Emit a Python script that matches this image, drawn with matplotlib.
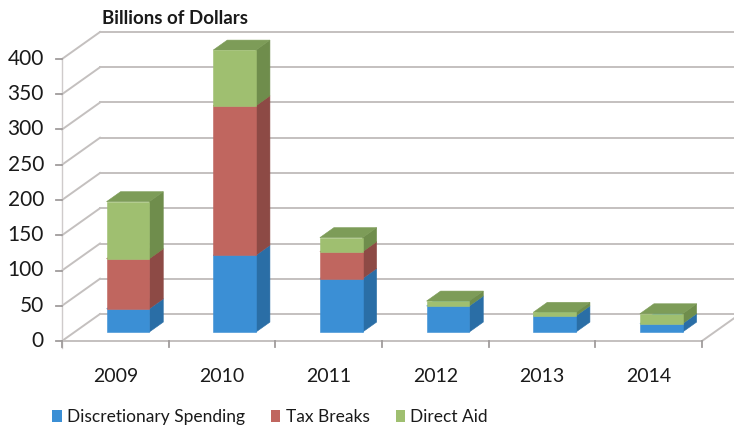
import matplotlib
matplotlib.use("Agg")
import matplotlib.pyplot as plt
from matplotlib.patches import Polygon, Patch

plt.rcParams['font.family'] = ['Lato', 'DejaVu Sans']

years = ['2009', '2010', '2011', '2012', '2013', '2014']
discretionary = [33, 109, 76, 37, 23, 12]
tax_breaks = [71, 212, 38, 0, 0, 0]
direct_aid = [81, 79, 20, 7, 5, 14]
series_names = ['Discretionary Spending', 'Tax Breaks', 'Direct Aid']
y_ticks = [0, 50, 100, 150, 200, 250, 300, 350, 400]

# front / side / top shades for each series
shades = [
    ('#3b8fd5', '#2a6ea6', '#4a9be0'),
    ('#c0665f', '#8d4a45', '#b05a53'),
    ('#9fbf70', '#6f8d4c', '#7d9c58'),
]
grid_col = '#c4c0bf'
txt_col = '#1a1a1a'

W, H = 734, 429
fig = plt.figure(figsize=(W / 100, H / 100), dpi=100)
ax = fig.add_axes([0, 0, 1, 1])
ax.set_axis_off()

# pixel layout of the plot box
unit = 640 / len(years)      # px per category
vpx = 282 / 400              # px per value unit
x0_px, y0_px = 62, 341
ax.set_xlim(-0.5 - x0_px / unit, -0.5 + (W - x0_px) / unit)
ax.set_ylim(-(H - y0_px) / vpx, y0_px / vpx)

DX = 38 / unit               # depth shift in category units
DY = 27 / vpx                # depth shift in value units
n = len(years)
xl, xr = -0.5, n - 0.5


def proj(x, v, d):
    return (x + d * DX, v + d * DY)


# side wall and back wall gridlines
for v in y_ticks:
    ax.plot(*zip(proj(xl, v, 0), proj(xl, v, 1)), color=grid_col, lw=1.4, zorder=1)
    ax.plot(*zip(proj(xl, v, 1), proj(xr, v, 1)), color=grid_col, lw=1.4, zorder=1)
    # tick marks on the front axis
    ax.plot([xl - 6 / unit, xl], [v, v], color='#a09c9c', lw=1.3, zorder=2)
    ax.text(xl - 18 / unit, v, str(v), ha='right', va='center',
            fontsize=15, color=txt_col)

# floor edges
ax.plot([xl, xr], [0, 0], color=grid_col, lw=1.4, zorder=1)
ax.plot(*zip(proj(xr, 0, 0), proj(xr, 0, 1)), color=grid_col, lw=1.4, zorder=1)
ax.plot([xl, xl], [-10, 400], color='#cfcbcb', lw=1.0, zorder=1)
for i in range(n + 1):
    ax.plot([xl + i, xl + i], [0, -9], color='#a09c9c', lw=1.3, zorder=2)

for i, yr in enumerate(years):
    ax.text(i, -50, yr, ha='center', va='center', fontsize=14, color=txt_col)

# stacked 3D-looking bars
d0, d1 = 0.33, 0.70
half = 0.20
for i in range(n):
    base = 0
    vals = [discretionary[i], tax_breaks[i], direct_aid[i]]
    for k, val in enumerate(vals):
        if val <= 0:
            continue
        top = base + val
        front_c, side_c, top_c = shades[k]
        left, right = i - half, i + half
        z = 3 + i * 0.1 + k * 0.01
        front = [proj(left, base, d0), proj(right, base, d0),
                 proj(right, top, d0), proj(left, top, d0)]
        side = [proj(right, base, d0), proj(right, base, d1),
                proj(right, top, d1), proj(right, top, d0)]
        lid = [proj(left, top, d0), proj(right, top, d0),
               proj(right, top, d1), proj(left, top, d1)]
        ax.add_patch(Polygon(side, closed=True, fc=side_c, ec=side_c, lw=0.4, zorder=z))
        ax.add_patch(Polygon(lid, closed=True, fc=top_c, ec=top_c, lw=0.4, zorder=z))
        ax.add_patch(Polygon(front, closed=True, fc=front_c, ec=front_c, lw=0.4, zorder=z))
        base = top

fig.text(102 / W, 1 - 18 / H, 'Billions of Dollars', ha='left', va='center',
         fontsize=13.5, fontweight='bold', color=txt_col)

handles = [Patch(facecolor=shades[k][0], edgecolor='none') for k in range(3)]
fig.legend(handles, series_names, loc='center', bbox_to_anchor=(270 / W, 12 / H),
           ncol=3, frameon=False, handlelength=0.55, handleheight=0.65,
           handletextpad=0.3, columnspacing=1.5, labelcolor=txt_col,
           prop={'size': 12.5})

fig.savefig('out.png', dpi=100, facecolor='white')
